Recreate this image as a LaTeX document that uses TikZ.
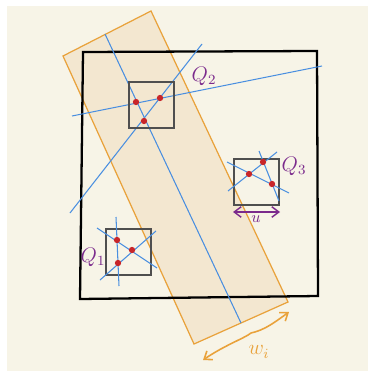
\documentclass[tikz,border=0pt]{standalone}
\usepackage{amsmath,amssymb}
\usepackage{xcolor}
\usepackage{tikz}
\usetikzlibrary{arrows.meta,positioning,calc}
\definecolor{paper}   {HTML}{F7F4E7}
\definecolor{stripfill}{HTML}{F3E7D0}
\definecolor{amber}   {HTML}{E9A23B}
\definecolor{skyblue} {HTML}{4A8FE0}
\definecolor{plum}    {HTML}{7B2A8C}
\definecolor{dotred}  {HTML}{C8262A}
\definecolor{boxgray} {HTML}{4F4F4F}

\begin{document}
\begin{tikzpicture}[x=0.02cm,y=-0.02cm,
    ray/.style={draw=skyblue, line width=0.6pt},
    cell/.style={draw=boxgray, line width=0.8pt},
    pt/.style={circle, fill=dotred, inner sep=0pt, minimum size=3.6pt},
    lab/.style={font=\large, color=plum},
    barb/.style={{Straight Barb[length=4pt,width=6pt]}-{Straight Barb[length=4pt,width=6pt]}}]
  \useasboundingbox (0,0) rectangle (368,371);
  \fill[paper] (7,6) rectangle (368,371);
  % the strip of width w_i
  \draw[amber, fill=stripfill, line width=0.7pt]
    (63,56) -- (151,11) -- (288,302) -- (194,344) -- cycle;
  % the unit square
  \draw[black, line width=1.3pt] (83,52) -- (317,51) -- (318,296) -- (80,299) -- cycle;
  % long lines
  \draw[ray] (105,34) -- (241,323);
  \draw[ray] (70,213) -- (202,44);
  \draw[ray] (72,116) -- (322,66);
  % the three cells
  \foreach \n/\x/\y in {1/106/229, 2/129/82, 3/234/159}{
    \draw[cell] (\x,\y) rectangle ++(45,46);
  }
  % short lines in Q1 and Q3
  \draw[ray] (97,228) -- (157,268);
  \draw[ray] (100,280) -- (156,231);
  \draw[ray] (116,217) -- (119,286);
  \draw[ray] (228,191) -- (277,152);
  \draw[ray] (227,162) -- (289,193);
  \draw[ray] (259,151) -- (279,201);
  % intersection points
  \foreach \x/\y in {136/102, 160/98, 144/121,
                     249/174, 263/162, 272/184,
                     117/240, 132/250, 118/263}{
    \node[pt] at (\x,\y) {};
  }
  \node[lab] (q1) at (93,257) {$Q_1$};
  \node[lab] (q2) at (204,76) {$Q_2$};
  \node[lab] (q3) at (294,166) {$Q_3$};
  % side length u
  \coordinate (ua) at (233,212);
  \coordinate (ub) at (280,212);
  \draw[barb, plum, line width=0.8pt] (ua) -- (ub);
  \node[font=\small, color=plum] (u) at (256,219) {$u$};
  % width of the strip
  \coordinate (wa) at (203,360);
  \coordinate (wb) at (289,312);
  \draw[barb, amber, line width=0.9pt] (wa) .. controls (225,345) and (245,338) .. ($(wa)!0.5!(wb)+(5,-3)$)
    .. controls (265,330) and (275,322) .. (wb);
  \node[font=\large, color=amber] (w) at (259,352) {$w_i$};
\end{tikzpicture}
\end{document}
